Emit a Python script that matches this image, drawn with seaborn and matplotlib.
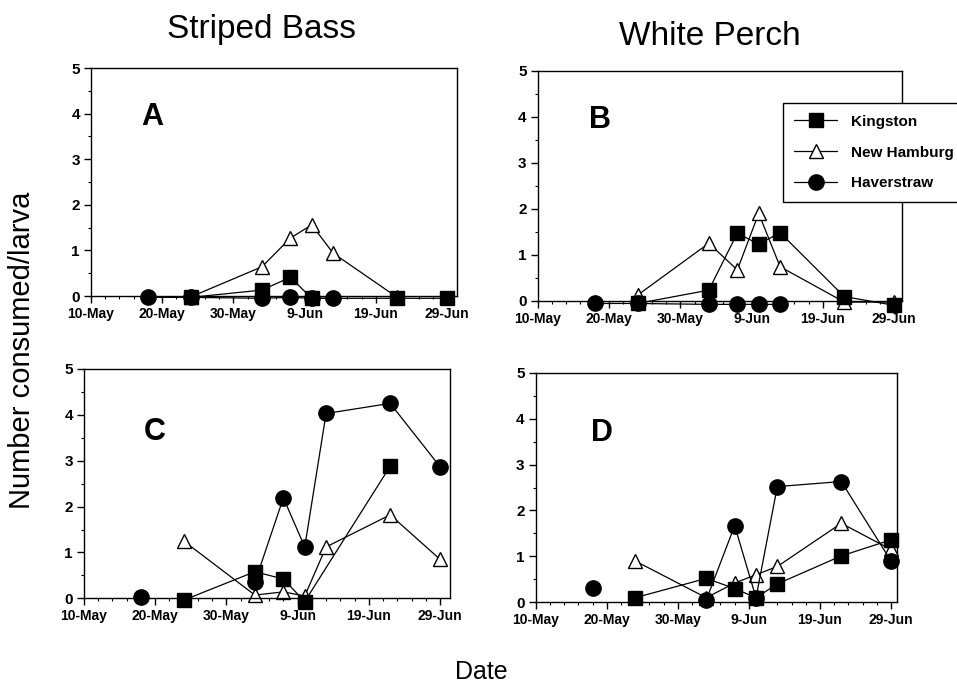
import numpy as np
import pandas as pd
import matplotlib
matplotlib.use("Agg")
import matplotlib.pyplot as plt
from matplotlib.ticker import MultipleLocator
import seaborn as sns

# ---------------- data ----------------
START = "10-May"
SAMPLE_DATES = ["18-May", "24-May", "3-Jun", "7-Jun", "10-Jun", "13-Jun", "22-Jun", "29-Jun"]
TICK_LABELS = ["10-May", "20-May", "30-May", "9-Jun", "19-Jun", "29-Jun"]
nan = np.nan

# Panel A: Striped Bass (upper)
A_kingston   = [nan, -0.03, 0.13, 0.41, -0.05, nan, -0.05, -0.05]
A_newhamburg = [nan, -0.02, 0.64, 1.27, 1.56, 0.94, -0.03, nan]
A_haverstraw = [-0.03, -0.03, -0.05, -0.03, -0.05, -0.05, nan, nan]
# Panel B: White Perch (upper)
B_kingston   = [nan, -0.06, 0.23, 1.47, 1.23, 1.48, 0.09, -0.10]
B_newhamburg = [nan, 0.12, 1.25, 0.67, 1.90, 0.74, -0.03, -0.03]
B_haverstraw = [-0.06, -0.06, -0.08, -0.08, -0.08, -0.08, nan, nan]
# Panel C: Striped Bass (lower)
C_kingston   = [nan, -0.04, 0.58, 0.42, -0.07, nan, 2.88, nan]
C_newhamburg = [nan, 1.25, 0.07, 0.14, 0.05, 1.12, 1.82, 0.85]
C_haverstraw = [0.03, nan, 0.35, 2.19, 1.12, 4.03, 4.25, 2.87]
# Panel D: White Perch (lower)
D_kingston   = [nan, 0.10, 0.52, 0.30, 0.10, 0.40, 1.01, 1.36]
D_newhamburg = [nan, 0.90, 0.10, 0.42, 0.60, 0.78, 1.72, 1.15]
D_haverstraw = [0.32, nan, 0.05, 1.67, 0.10, 2.52, 2.63, 0.90]

SITES = ["Kingston", "New Hamburg", "Haverstraw"]
PANELS = {
    "A": {"Kingston": A_kingston, "New Hamburg": A_newhamburg, "Haverstraw": A_haverstraw},
    "B": {"Kingston": B_kingston, "New Hamburg": B_newhamburg, "Haverstraw": B_haverstraw},
    "C": {"Kingston": C_kingston, "New Hamburg": C_newhamburg, "Haverstraw": C_haverstraw},
    "D": {"Kingston": D_kingston, "New Hamburg": D_newhamburg, "Haverstraw": D_haverstraw},
}
# line broken before this date (isolated earlier sample)
GAP_BEFORE = {("C", "Haverstraw"): "3-Jun", ("D", "Haverstraw"): "3-Jun"}
COLUMN_TITLES = ["Striped Bass", "White Perch"]

# ---------------- style ----------------
sns.set_style("ticks")
plt.rcParams["font.family"] = ["Liberation Sans", "DejaVu Sans"]
plt.rcParams["text.color"] = "black"
plt.rcParams["xtick.color"] = "black"
plt.rcParams["ytick.color"] = "black"
plt.rcParams["axes.labelcolor"] = "black"


def to_day(s):
    d = pd.to_datetime(s + "-1990", format="%d-%b-%Y")
    return (d - pd.to_datetime(START + "-1990", format="%d-%b-%Y")).days


days = [to_day(s) for s in SAMPLE_DATES]
tick_days = [to_day(s) for s in TICK_LABELS]

STYLE = {
    "Kingston": dict(marker="s", markersize=10.5, markerfacecolor="black", markeredgecolor="black"),
    "New Hamburg": dict(marker="^", markersize=10.5, markerfacecolor="white", markeredgecolor="black"),
    "Haverstraw": dict(marker="o", markersize=11, markerfacecolor="black", markeredgecolor="black"),
}
DRAW_ORDER = ["New Hamburg", "Haverstraw", "Kingston"]

fig = plt.figure(figsize=(9.57, 6.85), dpi=100)
W, H = 957, 685
# axes boxes in pixels: left, y of value 0, right, y of value 5
BOXES = {
    "A": (91, 296, 457, 68),
    "B": (537.7, 300.7, 902, 71),
    "C": (84, 598.3, 450, 369),
    "D": (535.7, 602.3, 896.7, 372.7),
}
LETTER_POS = {"A": (0.166, 0.786), "B": (0.171, 0.787), "C": (0.194, 0.727), "D": (0.183, 0.736)}

legend_handles = {}
for key, (l, b, r, t) in BOXES.items():
    ax = fig.add_axes([l / W, 1 - b / H, (r - l) / W, (b - t) / H])
    for site in DRAW_ORDER:
        vals = PANELS[key][site]
        df = pd.DataFrame({"day": days, "value": vals, "date": SAMPLE_DATES})
        seg = np.zeros(len(df), dtype=int)
        gap = GAP_BEFORE.get((key, site))
        if gap is not None:
            seg[SAMPLE_DATES.index(gap):] = 1
        df["seg"] = seg
        df = df.dropna(subset=["value"])
        sns.lineplot(data=df, x="day", y="value", units="seg", estimator=None,
                     color="black", linewidth=0.9, clip_on=False, ax=ax,
                     markeredgewidth=1.0, legend=False, **STYLE[site])
        if key == "B":
            legend_handles[site] = ax.lines[-1]
    xmax = {"A": 51.4, "B": 51.1, "C": 51.4, "D": 50.8}[key]
    ax.set_xlim(0, xmax)
    ax.set_ylim(0, 5)
    ax.set_xticks(tick_days)
    ax.set_xticklabels(TICK_LABELS, fontweight="bold", fontsize=10)
    ax.set_yticks(range(0, 6))
    ax.set_yticklabels([str(i) for i in range(0, 6)], fontweight="bold", fontsize=11)
    ax.xaxis.set_minor_locator(MultipleLocator(2))
    ax.yaxis.set_minor_locator(MultipleLocator(0.5))
    ax.tick_params(which="major", direction="out", length=5, width=1, colors="black", pad=3)
    ax.tick_params(which="minor", direction="out", length=2.5, width=0.8, colors="black")
    ax.set_xlabel("")
    ax.set_ylabel("")
    for sp in ax.spines.values():
        sp.set_color("black")
        sp.set_linewidth(1.0)
    ax.text(*LETTER_POS[key], key, transform=ax.transAxes, ha="center", va="center",
            fontsize=22, fontweight="bold", color="black")

leg = fig.legend([legend_handles[s] for s in SITES], SITES, loc="upper left",
                 bbox_to_anchor=(782.7 / W, 1 - 103.3 / H), bbox_transform=fig.transFigure,
                 frameon=True, fancybox=False, edgecolor="black", framealpha=1,
                 prop={"weight": "bold", "size": 11}, handlelength=2.8,
                 labelspacing=1.1, borderpad=0.75, handletextpad=0.9, borderaxespad=0)
leg.get_frame().set_linewidth(1.0)

fig.text(261.5 / W, 1 - 38 / H, COLUMN_TITLES[0], ha="center", va="baseline", fontsize=24)
fig.text(710 / W, 1 - 45 / H, COLUMN_TITLES[1], ha="center", va="baseline", fontsize=24)
fig.text(22 / W, 1 - 350 / H, "Number consumed/larva", rotation=90, ha="center", va="center", fontsize=21)
fig.text(481 / W, 1 - 679 / H, "Date", ha="center", va="baseline", fontsize=18)

fig.savefig("out.png", dpi=100)
